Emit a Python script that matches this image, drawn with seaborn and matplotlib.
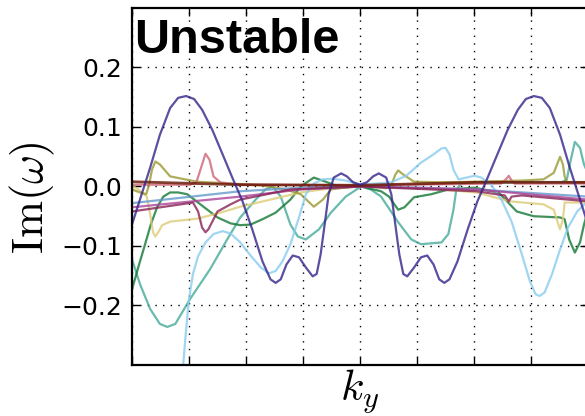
import matplotlib
matplotlib.use("Agg")
import matplotlib.pyplot as plt
import seaborn as sns

# k_y positions (axis runs 0..8) and Im(omega)
k_indigo = [0.00, 0.14, 0.32, 0.49, 0.67, 0.81, 0.95, 1.09, 1.23, 1.41, 1.59, 1.76, 1.94, 2.11, 2.29, 2.43,
            2.52, 2.61, 2.71, 2.82, 2.93, 3.05, 3.17, 3.24, 3.31, 3.38, 3.45, 3.54, 3.67, 3.77, 3.88, 4.00,
            4.12, 4.23, 4.33, 4.46, 4.55, 4.62, 4.69, 4.76, 4.83, 4.95, 5.07, 5.18, 5.29, 5.39, 5.48, 5.57,
            5.71, 5.89, 6.06, 6.24, 6.41, 6.59, 6.77, 6.91, 7.05, 7.19, 7.33, 7.51, 7.68, 7.86, 8.00]
im_indigo = [-0.064, -0.022, 0.032, 0.087, 0.132, 0.149, 0.152, 0.147, 0.129, 0.095, 0.054, 0.015, -0.025,
             -0.072, -0.126, -0.156, -0.162, -0.156, -0.131, -0.116, -0.119, -0.136, -0.151, -0.147, -0.114,
             -0.064, -0.013, 0.015, 0.022, 0.017, 0.007, 0.003,
             0.007, 0.017, 0.022, 0.015, -0.013, -0.064, -0.114, -0.147, -0.151, -0.136, -0.119, -0.116,
             -0.131, -0.156, -0.162, -0.156, -0.126, -0.072, -0.025, 0.015, 0.054, 0.095, 0.129, 0.147,
             0.152, 0.149, 0.132, 0.087, 0.032, -0.022, -0.064]

k_cyan = [0.84, 0.90, 0.95, 1.00, 1.07, 1.16, 1.29, 1.43, 1.59, 1.73, 1.90, 2.08, 2.26, 2.40, 2.52, 2.64,
          2.78, 2.93, 3.05, 3.19, 3.35, 3.52, 3.75, 4.02, 4.28, 4.55, 4.81, 5.07, 5.29, 5.43, 5.50, 5.57,
          5.64, 5.73, 5.87, 6.01, 6.13, 6.31, 6.48, 6.66, 6.84, 6.98, 7.08, 7.15, 7.24, 7.37, 7.51, 7.65,
          7.81, 8.00]
im_cyan = [-0.370, -0.298, -0.240, -0.189, -0.147, -0.117, -0.094, -0.080, -0.075, -0.079, -0.094, -0.116,
           -0.136, -0.146, -0.142, -0.126, -0.097, -0.052, -0.013, 0.005, 0.012, 0.013, 0.010, 0.003, 0.005,
           0.007, 0.018, 0.040, 0.054, 0.064, 0.065, 0.054, 0.028, 0.012, 0.015, 0.018, 0.015, 0.002, -0.022,
           -0.059, -0.114, -0.159, -0.181, -0.184, -0.178, -0.147, -0.106, -0.069, -0.042, -0.024]

k_teal = [0.00, 0.14, 0.32, 0.49, 0.62, 0.76, 1.02, 1.37, 1.67, 1.90, 2.17, 2.34, 2.47, 2.61, 2.78, 2.91,
          3.05, 3.28, 3.49, 3.75, 4.02, 4.19, 4.37, 4.67, 4.90, 5.07, 5.43, 5.55, 5.64, 5.69, 5.78, 6.01,
          6.84, 7.54, 7.63, 7.68, 7.77, 7.86, 7.93, 8.00]
im_teal = [-0.122, -0.164, -0.206, -0.231, -0.236, -0.231, -0.189, -0.139, -0.089, -0.052, -0.022, -0.005,
           0.000, -0.017, -0.064, -0.084, -0.089, -0.072, -0.044, -0.017, 0.000, -0.005, -0.017, -0.060,
           -0.089, -0.097, -0.094, -0.080, -0.039, -0.005, 0.005, 0.007, 0.007, 0.007, 0.012, 0.037, 0.075,
           0.065, 0.037, 0.022]

k_green = [0.00, 0.11, 0.23, 0.33, 0.44, 0.55, 0.67, 0.81, 0.97, 1.20, 1.50, 1.73, 1.90, 2.08, 2.29, 2.52,
           2.78, 2.96, 3.19, 3.40, 3.67, 4.02, 4.37, 4.51, 4.58, 4.67, 4.78, 4.95, 5.25, 5.55, 6.01, 6.43,
           6.75, 7.05, 7.51, 7.59, 7.67, 7.77, 7.86, 7.93, 8.00]
im_green = [-0.173, -0.136, -0.097, -0.064, -0.035, -0.017, -0.010, -0.010, -0.013, -0.030, -0.052, -0.062,
            -0.065, -0.064, -0.055, -0.044, -0.022, 0.000, 0.015, 0.008, -0.002, 0.000, -0.008, -0.017,
            -0.027, -0.039, -0.035, -0.018, -0.013, -0.005, -0.002, -0.010, -0.042, -0.050, -0.052, -0.055,
            -0.089, -0.111, -0.094, -0.064, -0.040]

k_olive = [0.00, 0.14, 0.25, 0.30, 0.35, 0.41, 0.49, 0.67, 0.93, 1.15, 1.73, 2.26, 2.70, 2.96, 3.19, 3.35,
           3.49, 4.02, 4.46, 4.55, 4.62, 4.67, 4.76, 4.95, 5.43, 6.04, 6.84, 7.22, 7.40, 7.51, 7.56, 7.59,
           7.63, 8.00]
im_olive = [-0.005, -0.010, -0.013, 0.003, 0.028, 0.042, 0.037, 0.017, 0.012, 0.008, 0.005, 0.002, -0.005,
            -0.013, -0.034, -0.022, -0.005, 0.002, -0.003, 0.002, 0.020, 0.027, 0.020, 0.008, 0.007, 0.008,
            0.010, 0.012, 0.023, 0.050, 0.037, 0.017, 0.007, 0.007]

k_sand = [0.00, 0.14, 0.26, 0.32, 0.37, 0.41, 0.46, 0.53, 0.67, 1.15, 1.55, 1.90, 2.43, 2.96, 3.49, 4.00,
          4.72, 5.43, 6.04, 6.63, 7.22, 7.40, 7.45, 7.51, 7.56, 7.59, 8.00]
im_sand = [0.002, -0.007, -0.017, -0.047, -0.077, -0.084, -0.077, -0.065, -0.059, -0.054, -0.044, -0.034,
           -0.022, -0.010, -0.003, 0.000, -0.002, -0.005, -0.010, -0.025, -0.030, -0.039, -0.055, -0.072,
           -0.055, -0.027, -0.027]

k_rose = [0.00, 1.02, 1.13, 1.20, 1.29, 1.36, 1.43, 1.55, 1.90, 4.00, 6.48, 6.56, 6.61, 6.66, 6.71, 8.00]
im_rose = [0.003, 0.003, 0.007, 0.028, 0.055, 0.045, 0.017, 0.007, 0.003, 0.002, 0.005, 0.012, 0.018, 0.010,
           0.005, 0.005]

k_wine = [0.00, 1.07, 1.16, 1.23, 1.29, 1.34, 1.41, 1.50, 1.73, 1.90, 2.78, 4.00, 6.04, 6.54, 6.61, 6.66,
          6.84, 8.00]
im_wine = [-0.042, -0.027, -0.042, -0.069, -0.077, -0.072, -0.059, -0.042, -0.030, -0.022, -0.005, 0.000,
           -0.008, -0.015, -0.025, -0.017, -0.015, -0.025]

k_blue = [0.00, 1.90, 2.96, 4.00, 5.07, 6.04, 8.00]
im_blue = [-0.028, -0.008, -0.002, 0.000, -0.002, -0.005, -0.017]

k_magenta = [0.00, 1.90, 2.96, 4.00, 6.04, 8.00]
im_magenta = [-0.035, -0.017, -0.005, 0.000, -0.005, -0.022]

k_brown = [0.00, 1.90, 4.00, 6.04, 8.00]
im_brown = [0.008, 0.003, 0.002, 0.007, 0.007]

ytick_vals = [-0.2, -0.1, 0.0, 0.1, 0.2]

sns.set_style("ticks")
plt.rcParams["mathtext.fontset"] = "cm"
plt.rcParams["font.family"] = ["DejaVu Sans"]
for key in ["text.color", "axes.labelcolor", "xtick.color", "ytick.color", "axes.edgecolor"]:
    plt.rcParams[key] = "black"

fig = plt.figure(figsize=(5.85, 4.16), dpi=100)
ax = fig.add_axes([0.2256, 0.1226, 0.7795, 0.8582])

series = [
    (k_teal, im_teal, "#44AA99", 1.6),
    (k_green, im_green, "#117733", 1.6),
    (k_sand, im_sand, "#DDCC77", 1.6),
    (k_olive, im_olive, "#999933", 1.6),
    (k_rose, im_rose, "#CC6677", 1.6),
    (k_cyan, im_cyan, "#88CCEE", 1.6),
    (k_blue, im_blue, "#6699CC", 1.6),
    (k_magenta, im_magenta, "#AA4499", 1.6),
    (k_wine, im_wine, "#882255", 1.6),
    (k_brown, im_brown, "#661100", 2.0),
    (k_indigo, im_indigo, "#332288", 1.6),
]
for ks, ims, col, lw in series:
    sns.lineplot(x=ks, y=ims, color=col, lw=lw, alpha=0.8, sort=False, estimator=None, ax=ax,
                 solid_joinstyle="round")

ax.set_xlim(0, 8)
ax.set_ylim(-0.3, 0.3)
ax.set_xticks(range(9))
ax.set_yticks(ytick_vals)
ax.tick_params(direction="in", top=True, right=True, length=6, width=1, labelsize=18, pad=7,
               labelbottom=False)
ax.grid(True, color="k", linestyle=(0, (1, 4.5)), lw=1)
for s in ax.spines.values():
    s.set_linewidth(1.6)

ax.set_xlabel(r"$k_y$", fontsize=31, labelpad=2)
ax.set_ylabel(r"$\mathrm{Im}(\omega)$", fontsize=32)
ax.yaxis.set_label_coords(-0.165, 0.47)
ax.text(0.005, 0.874, "Unstable", transform=ax.transAxes, fontsize=35, fontweight="bold",
        family="Liberation Sans", va="baseline", ha="left")

fig.savefig("out.png", dpi=100)
